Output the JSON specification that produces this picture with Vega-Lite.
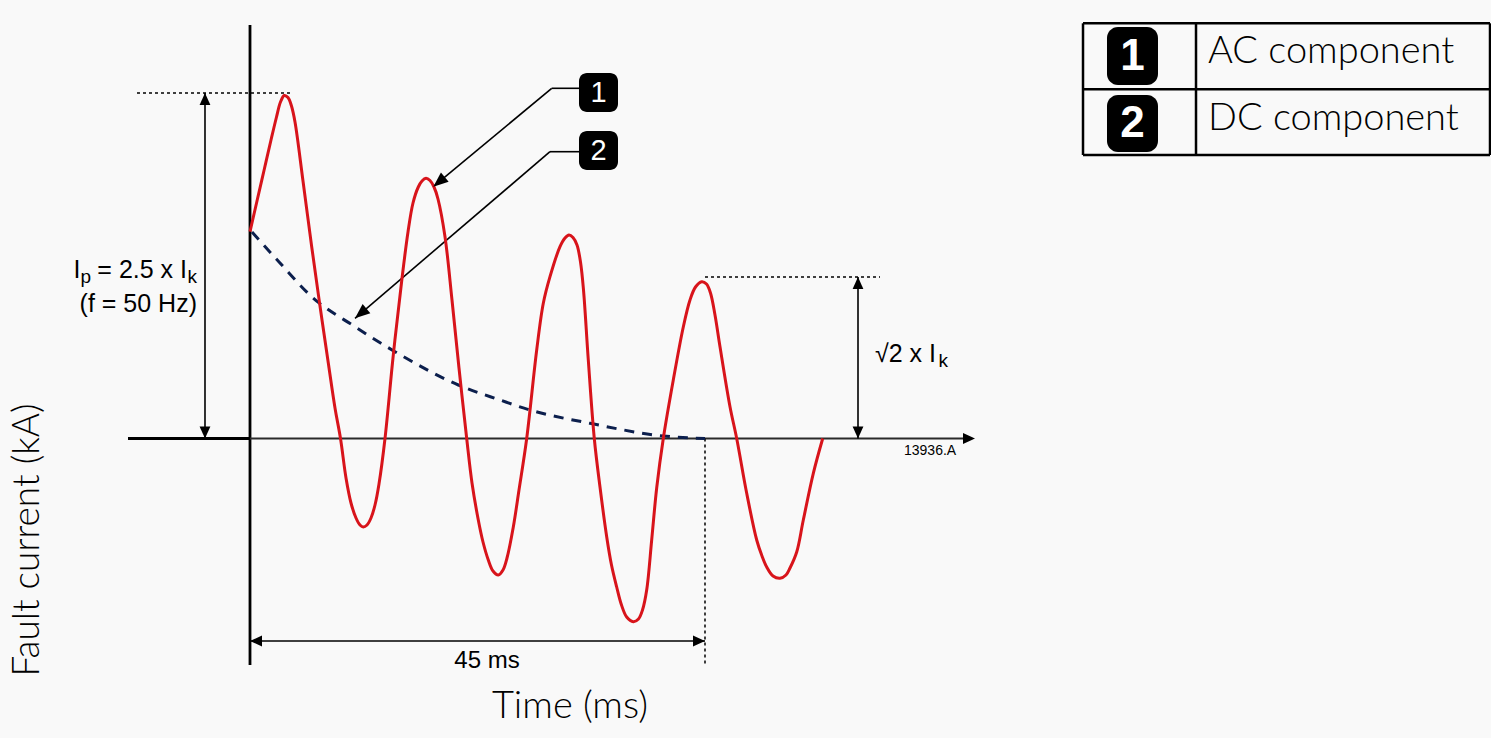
{
  "$schema": "https://vega.github.io/schema/vega-lite/v6.json",
  "width": 1491,
  "height": 738,
  "autosize": {"type": "none"},
  "padding": 0,
  "background": "#f9f9f9",
  "config": {"view": {"stroke": null}},
  "encoding": {
    "x": {"field": "t", "type": "quantitative", "scale": {"domain": [-24.725, 122.736], "nice": false, "zero": false}, "axis": null},
    "y": {"field": "i", "type": "quantitative", "scale": {"domain": [-29.95, 43.85], "nice": false, "zero": false}, "axis": null}
  },
  "datasets": {
    "wave": [
      {"t": 0.000, "i": 20.68}, {"t": 0.692, "i": 23.75}, {"t": 1.385, "i": 26.80}, {"t": 2.077, "i": 29.85},
      {"t": 2.621, "i": 32.15}, {"t": 3.016, "i": 33.65}, {"t": 3.392, "i": 34.30}, {"t": 3.758, "i": 34.10},
      {"t": 4.104, "i": 33.25}, {"t": 4.451, "i": 31.65}, {"t": 5.242, "i": 25.75}, {"t": 6.102, "i": 19.18},
      {"t": 6.923, "i": 13.25}, {"t": 7.744, "i": 7.55}, {"t": 8.407, "i": 3.05}, {"t": 8.951, "i": 0},
      {"t": 9.495, "i": -3.95}, {"t": 9.989, "i": -6.45}, {"t": 10.484, "i": -7.95}, {"t": 10.879, "i": -8.65},
      {"t": 11.205, "i": -8.85}, {"t": 11.571, "i": -8.65}, {"t": 11.967, "i": -7.95}, {"t": 12.363, "i": -6.65},
      {"t": 12.758, "i": -4.55}, {"t": 13.352, "i": 0}, {"t": 14.172, "i": 8.35}, {"t": 15.003, "i": 15.75},
      {"t": 15.626, "i": 20.65}, {"t": 16.121, "i": 23.55}, {"t": 16.645, "i": 25.15}, {"t": 17.011, "i": 25.75},
      {"t": 17.407, "i": 26.02}, {"t": 17.802, "i": 25.80}, {"t": 18.198, "i": 25.15}, {"t": 18.593, "i": 23.95},
      {"t": 19.286, "i": 20.18}, {"t": 19.978, "i": 13.85}, {"t": 20.670, "i": 7.05}, {"t": 21.432, "i": 0},
      {"t": 21.956, "i": -4.45}, {"t": 22.579, "i": -8.15}, {"t": 23.044, "i": -10.35}, {"t": 23.568, "i": -12.15},
      {"t": 24.033, "i": -13.25}, {"t": 24.557, "i": -13.65}, {"t": 25.022, "i": -13.15}, {"t": 25.418, "i": -11.95},
      {"t": 26.041, "i": -8.85}, {"t": 26.604, "i": -5.15}, {"t": 27.366, "i": 0}, {"t": 28.355, "i": 8.85},
      {"t": 29.008, "i": 13.52}, {"t": 29.670, "i": 16.18}, {"t": 30.659, "i": 19.18}, {"t": 31.154, "i": 20.05},
      {"t": 31.549, "i": 20.35}, {"t": 31.945, "i": 20.10}, {"t": 32.341, "i": 19.35}, {"t": 32.687, "i": 17.65},
      {"t": 32.984, "i": 14.85}, {"t": 33.458, "i": 7.85}, {"t": 34.051, "i": 0}, {"t": 34.615, "i": -4.85},
      {"t": 35.277, "i": -9.82}, {"t": 35.752, "i": -12.65}, {"t": 36.266, "i": -14.85}, {"t": 36.741, "i": -16.65},
      {"t": 37.255, "i": -17.85}, {"t": 37.908, "i": -18.32}, {"t": 38.422, "i": -18.05}, {"t": 38.818, "i": -17.15},
      {"t": 39.233, "i": -15.15}, {"t": 39.727, "i": -10.15}, {"t": 40.222, "i": -4.95}, {"t": 40.875, "i": 0},
      {"t": 41.864, "i": 5.85}, {"t": 42.853, "i": 11.15}, {"t": 43.516, "i": 13.85}, {"t": 44.060, "i": 15.15},
      {"t": 44.672, "i": 15.68}, {"t": 45.148, "i": 15.45}, {"t": 45.544, "i": 14.55}, {"t": 45.989, "i": 12.35},
      {"t": 46.484, "i": 9.18}, {"t": 47.473, "i": 3.18}, {"t": 48.136, "i": 0}, {"t": 49.125, "i": -5.48},
      {"t": 50.114, "i": -10.15}, {"t": 50.637, "i": -11.75}, {"t": 51.103, "i": -12.85}, {"t": 51.726, "i": -13.75},
      {"t": 52.418, "i": -13.98}, {"t": 53.011, "i": -13.65}, {"t": 53.407, "i": -12.95}, {"t": 54.070, "i": -11.35},
      {"t": 54.723, "i": -8.15}, {"t": 55.712, "i": -3.48}, {"t": 56.642, "i": 0}
    ],
    "dc": [
      {"t": 0.198, "i": 20.65}, {"t": 2.967, "i": 17.55}, {"t": 6.102, "i": 14.18}, {"t": 10.385, "i": 11.18},
      {"t": 14.341, "i": 8.68}, {"t": 20.601, "i": 5.35}, {"t": 24.725, "i": 3.85}, {"t": 27.692, "i": 2.85},
      {"t": 33.626, "i": 1.52}, {"t": 40.875, "i": 0.25}, {"t": 45.0, "i": 0}
    ],
    "axisThick": [
      {"t": 0, "i": 41.35, "t2": 0, "i2": -22.65},
      {"t": -12.066, "i": 0, "t2": 0, "i2": 0}
    ],
    "axisThin": [
      {"t": 0, "i": 0, "t2": 70.9, "i2": 0}
    ],
    "dimLines": [
      {"t": -4.451, "i": 34.55, "t2": -4.451, "i2": 0},
      {"t": 60.132, "i": 16.15, "t2": 60.132, "i2": 0},
      {"t": 0, "i": -20.25, "t2": 45, "i2": -20.25},
      {"t": 32.538, "i": 35.02, "t2": 29.838, "i2": 35.02},
      {"t": 29.838, "i": 35.02, "t2": 18.129, "i2": 25.18},
      {"t": 32.538, "i": 28.68, "t2": 29.670, "i2": 28.68},
      {"t": 29.670, "i": 28.68, "t2": 10.385, "i2": 12.02}
    ],
    "dotted": [
      {"t": -11.176, "i": 34.55, "t2": 4.253, "i2": 34.55},
      {"t": 45, "i": 16.15, "t2": 62.308, "i2": 16.15},
      {"t": 45, "i": 0, "t2": 45, "i2": -22.65}
    ],
    "tableLines": [
      {"t": 82.385, "i": 41.52, "t2": 122.637, "i2": 41.52},
      {"t": 82.385, "i": 28.35, "t2": 122.637, "i2": 28.35},
      {"t": 82.385, "i": 41.52, "t2": 82.385, "i2": 28.35},
      {"t": 122.637, "i": 41.52, "t2": 122.637, "i2": 28.35},
      {"t": 82.385, "i": 34.92, "t2": 122.637, "i2": 34.92},
      {"t": 93.561, "i": 41.52, "t2": 93.561, "i2": 28.35}
    ],
    "arrowsUp": [{"t": -4.451, "i": 34.55}, {"t": 60.132, "i": 16.15}],
    "arrowsDown": [{"t": -4.451, "i": 0}, {"t": 60.132, "i": 0}],
    "arrowsLeft": [{"t": 0, "i": -20.25}],
    "arrowsRight": [{"t": 45, "i": -20.25}, {"t": 71.703, "i": 0}],
    "arrowsDiag": [{"t": 18.129, "i": 25.18}, {"t": 10.385, "i": 12.02}],
    "badges": [
      {"t": 32.538, "i": 36.55, "t2": 36.396, "i2": 32.65},
      {"t": 32.538, "i": 30.75, "t2": 36.396, "i2": 26.85}
    ],
    "legendBadges": [
      {"t": 84.758, "i": 41.15, "t2": 89.802, "i2": 35.35},
      {"t": 84.758, "i": 34.35, "t2": 89.802, "i2": 28.65}
    ],
    "badgeNums": [
      {"t": 34.467, "i": 34.55, "label": "1"},
      {"t": 34.467, "i": 28.75, "label": "2"}
    ],
    "legendNums": [
      {"t": 87.280, "i": 38.2, "label": "1"},
      {"t": 87.280, "i": 31.45, "label": "2"}
    ],
    "legendText": [
      {"t": 94.747, "i": 37.55, "label": "AC component"},
      {"t": 94.747, "i": 30.85, "label": "DC component"}
    ],
    "labelsR": [
      {"t": -16.764, "i": 16.05, "label": "I"},
      {"t": -6.231, "i": 16.05, "label": "= 2.5 x I"},
      {"t": -5.242, "i": 12.7, "label": "(f = 50 Hz)"}
    ],
    "subsR": [
      {"t": -15.725, "i": 15.55, "label": "p"}
    ],
    "labelsL": [
      {"t": 61.813, "i": 7.65, "label": "√2 x I"}
    ],
    "subsL": [
      {"t": -6.181, "i": 15.55, "label": "k"},
      {"t": 68.093, "i": 7.2, "label": "k"}
    ],
    "labelsC": [
      {"t": 23.440, "i": -22.95, "label": "45 ms"}
    ],
    "stamp": [
      {"t": 64.681, "i": -1.65, "label": "13936.A"}
    ],
    "xTitle": [
      {"t": 31.648, "i": -27.95, "label": "Time (ms)"}
    ],
    "yTitle": [
      {"t": -20.868, "i": -10.15, "label": "Fault current (kA)"}
    ]
  },
  "layer": [
    {"data": {"name": "axisThick"}, "mark": {"type": "rule", "color": "#000000", "strokeWidth": 2.8}, "encoding": {"x2": {"field": "t2"}, "y2": {"field": "i2"}}},
    {"data": {"name": "axisThin"}, "mark": {"type": "rule", "color": "#2a2a2a", "strokeWidth": 2}, "encoding": {"x2": {"field": "t2"}, "y2": {"field": "i2"}}},
    {"data": {"name": "dotted"}, "mark": {"type": "rule", "color": "#000000", "strokeWidth": 1.5, "strokeDash": [3, 3]}, "encoding": {"x2": {"field": "t2"}, "y2": {"field": "i2"}}},
    {"data": {"name": "dimLines"}, "mark": {"type": "rule", "color": "#000000", "strokeWidth": 1.6}, "encoding": {"x2": {"field": "t2"}, "y2": {"field": "i2"}}},
    {"data": {"name": "dc"}, "mark": {"type": "line", "color": "#0c1f4d", "strokeWidth": 3, "strokeDash": [10, 8], "interpolate": "monotone"}, "encoding": {}},
    {"data": {"name": "wave"}, "mark": {"type": "line", "color": "#d8141b", "strokeWidth": 3, "interpolate": "catmull-rom"}, "encoding": {}},
    {"data": {"name": "arrowsUp"}, "mark": {"type": "point", "shape": "M0,0L-2,-0.9L-2,0.9Z", "size": 144, "filled": true, "opacity": 1, "color": "#000000", "strokeWidth": 0, "angle": 270}},
    {"data": {"name": "arrowsDown"}, "mark": {"type": "point", "shape": "M0,0L-2,-0.9L-2,0.9Z", "size": 144, "filled": true, "opacity": 1, "color": "#000000", "strokeWidth": 0, "angle": 90}},
    {"data": {"name": "arrowsLeft"}, "mark": {"type": "point", "shape": "M0,0L-2,-0.9L-2,0.9Z", "size": 144, "filled": true, "opacity": 1, "color": "#000000", "strokeWidth": 0, "angle": 180}},
    {"data": {"name": "arrowsRight"}, "mark": {"type": "point", "shape": "M0,0L-2,-0.9L-2,0.9Z", "size": 144, "filled": true, "opacity": 1, "color": "#000000", "strokeWidth": 0, "angle": 0}},
    {"data": {"name": "arrowsDiag"}, "mark": {"type": "point", "shape": "M0,0L-2,-0.8L-2,0.8Z", "size": 225, "filled": true, "opacity": 1, "color": "#000000", "strokeWidth": 0, "angle": 140}},
    {"data": {"name": "badges"}, "mark": {"type": "rect", "color": "#000000", "cornerRadius": 8}, "encoding": {"x2": {"field": "t2"}, "y2": {"field": "i2"}}},
    {"data": {"name": "legendBadges"}, "mark": {"type": "rect", "color": "#000000", "cornerRadius": 11}, "encoding": {"x2": {"field": "t2"}, "y2": {"field": "i2"}}},
    {"data": {"name": "tableLines"}, "mark": {"type": "rule", "color": "#000000", "strokeWidth": 2.5}, "encoding": {"x2": {"field": "t2"}, "y2": {"field": "i2"}}},
    {"data": {"name": "badgeNums"}, "mark": {"type": "text", "font": "Liberation Sans", "fontSize": 29, "color": "#ffffff", "align": "center", "baseline": "middle"}, "encoding": {"text": {"field": "label"}}},
    {"data": {"name": "legendNums"}, "mark": {"type": "text", "font": "Liberation Sans", "fontSize": 44, "fontWeight": "bold", "color": "#ffffff", "align": "center", "baseline": "middle"}, "encoding": {"text": {"field": "label"}}},
    {"data": {"name": "legendText"}, "mark": {"type": "text", "font": "Lato", "fontSize": 38, "fontWeight": 300, "color": "#000000", "align": "left", "baseline": "alphabetic"}, "encoding": {"text": {"field": "label"}}},
    {"data": {"name": "labelsR"}, "mark": {"type": "text", "font": "Liberation Sans", "fontSize": 25, "color": "#000000", "align": "right", "baseline": "alphabetic"}, "encoding": {"text": {"field": "label"}}},
    {"data": {"name": "subsR"}, "mark": {"type": "text", "font": "Liberation Sans", "fontSize": 19, "color": "#000000", "align": "right", "baseline": "alphabetic"}, "encoding": {"text": {"field": "label"}}},
    {"data": {"name": "labelsL"}, "mark": {"type": "text", "font": "Liberation Sans", "fontSize": 25, "color": "#000000", "align": "left", "baseline": "alphabetic"}, "encoding": {"text": {"field": "label"}}},
    {"data": {"name": "subsL"}, "mark": {"type": "text", "font": "Liberation Sans", "fontSize": 19, "color": "#000000", "align": "left", "baseline": "alphabetic"}, "encoding": {"text": {"field": "label"}}},
    {"data": {"name": "labelsC"}, "mark": {"type": "text", "font": "Liberation Sans", "fontSize": 24, "color": "#000000", "align": "center", "baseline": "alphabetic"}, "encoding": {"text": {"field": "label"}}},
    {"data": {"name": "stamp"}, "mark": {"type": "text", "font": "Liberation Sans", "fontSize": 14, "color": "#000000", "align": "left", "baseline": "alphabetic"}, "encoding": {"text": {"field": "label"}}},
    {"data": {"name": "xTitle"}, "mark": {"type": "text", "font": "Lato", "fontSize": 38, "fontWeight": 300, "color": "#000000", "align": "center", "baseline": "alphabetic"}, "encoding": {"text": {"field": "label"}}},
    {"data": {"name": "yTitle"}, "mark": {"type": "text", "font": "Lato", "fontSize": 37, "fontWeight": 300, "color": "#000000", "align": "center", "baseline": "alphabetic", "angle": 270}, "encoding": {"text": {"field": "label"}}}
  ]
}
